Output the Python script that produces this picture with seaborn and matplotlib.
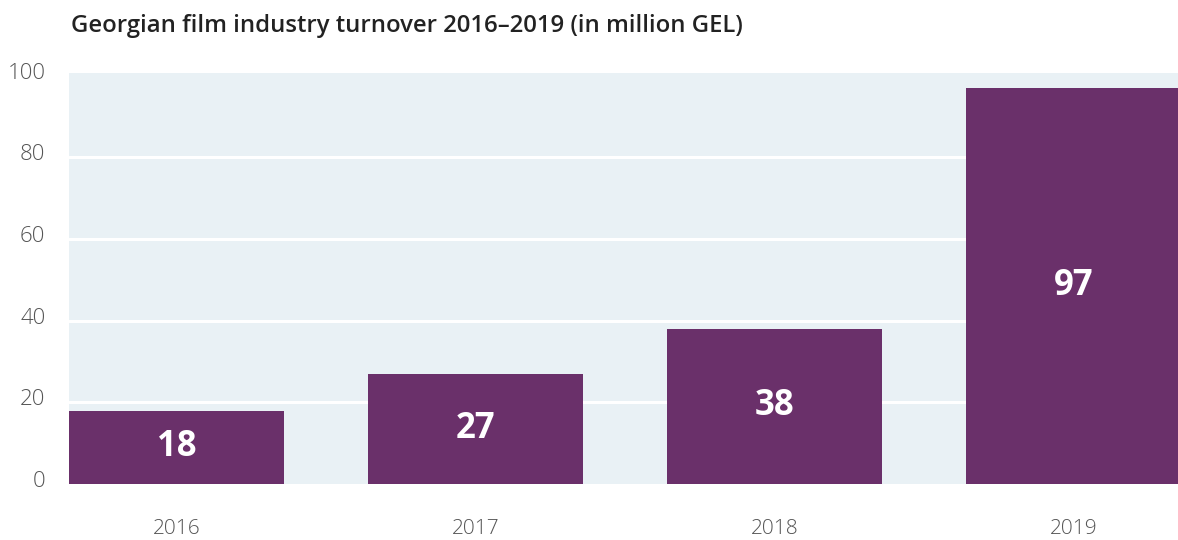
import matplotlib
matplotlib.use("Agg")
import matplotlib.pyplot as plt
import matplotlib.transforms as mtransforms
import seaborn as sns
import pandas as pd

years = ["2016", "2017", "2018", "2019"]
turnover = [18, 27, 38, 97]

df = pd.DataFrame({"year": years, "turnover": turnover})

sns.set_theme(style="white")
plt.rcParams["font.family"] = ["Open Sans", "DejaVu Sans"]

fig = plt.figure(figsize=(11.78, 5.4), dpi=100)
ax = fig.add_axes([69 / 1178, 1 - 484 / 540, 1 - 69 / 1178, (484 - 73) / 540])
ax.set_facecolor("#E9F1F5")

sns.barplot(data=df, x="year", y="turnover", color="#6A306A", saturation=1,
            width=0.72, linewidth=0, edgecolor="none", ax=ax, zorder=3)

ax.set_xlim(-0.36, 3.349)
ax.set_ylim(0, 100.7)
ax.set_yticks([0, 20, 40, 60, 80, 100])
for y in [20, 40, 60, 80]:
    ax.axhline(y, color="white", lw=2.2, zorder=2)

for s in ax.spines.values():
    s.set_visible(False)
ax.tick_params(axis="both", length=0, labelsize=15, colors="#555555")
ax.tick_params(axis="y", labelsize=16, pad=17)
ax.tick_params(axis="x", pad=25)
ax.set_xlabel("")
ax.set_ylabel("")

# y tick labels sit a little above their gridlines
lift = mtransforms.ScaledTranslation(0, 5 / 100, fig.dpi_scale_trans)
for lbl in ax.get_yticklabels():
    lbl.set_fontweight("light")
    lbl.set_transform(lbl.get_transform() + lift)
for lbl in ax.get_xticklabels():
    lbl.set_fontweight("light")

for i, v in enumerate(turnover):
    ax.text(i, v / 2, f"{v}", ha="center", va="center", color="white",
            fontsize=25, fontweight="bold", zorder=4)

fig.text(71 / 1178, 1 - 26 / 540,
         "Georgian film industry turnover 2016\u20132019 (in million GEL)",
         ha="left", va="center", fontsize=17.2, fontweight="semibold",
         color="#222222")

fig.savefig("out.png", dpi=100)
